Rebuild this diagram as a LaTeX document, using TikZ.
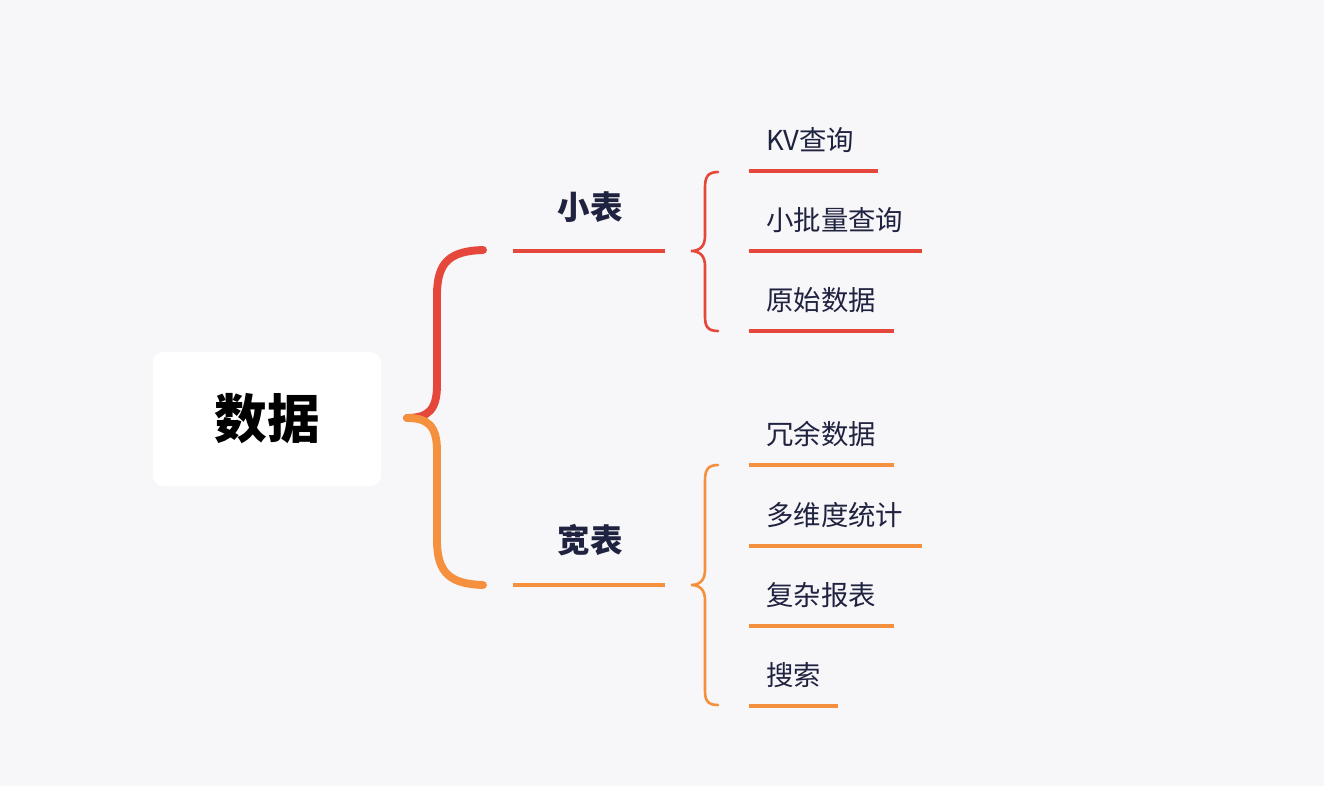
\documentclass[tikz,border=0pt]{standalone}
\usepackage{fontspec}
\setmainfont{Noto Sans CJK SC}
\usepackage{tikz}
\usetikzlibrary{positioning}
\definecolor{bgcol}{HTML}{F7F7F9}
\definecolor{redc}{HTML}{E5483A}
\definecolor{orac}{HTML}{F5913E}
\definecolor{navy}{HTML}{1F2340}
\tikzset{
  item/.style={anchor=west, inner sep=0pt, font=\fontsize{15.6}{15.6}\selectfont, text=navy},
  head/.style={inner sep=0pt, font=\fontsize{18.5}{18.5}\selectfont\bfseries, text=navy},
  uline/.style={line width=1.8pt},
  smallbrace/.style={line width=1.5pt, line cap=round}
}
\begin{document}
\begin{tikzpicture}[x=0.02cm, y=-0.02cm]
    % Background
    \fill[bgcol] (0,0) rectangle (1324,786);
    \useasboundingbox (0,0) rectangle (1324,786);

    % Root
    \node[fill=white, rounded corners=6pt, minimum width=228*0.02cm, minimum height=134*0.02cm,
      font=\fontsize{30}{30}\selectfont\bfseries] (root) at (267,419) {数据};

    % Big brace
    \draw[redc, line width=4.5pt, line cap=round] (483,250) .. controls (450,251) and (437,262) .. (437,295) -- (437,385) .. controls (437,410) and (428,418) .. (407,418);
    \draw[orac, line width=4.5pt, line cap=round] (483,585) .. controls (450,584) and (437,573) .. (437,540) -- (437,451) .. controls (437,426) and (428,418) .. (407,418);

    % Branches
    \node[head] (small) at (590,207) {小表};
    \node[head] (wide) at (590,540) {宽表};
    \draw[redc, uline] (513,251) -- (665,251);
    \draw[orac, uline] (513,585) -- (665,585);

    % Small braces
    \draw[redc, smallbrace] (718,172) .. controls (707,172) and (705,178) .. (705,188) -- (705,236) .. controls (705,246) and (700,251) .. (691,251)
      .. controls (700,251) and (705,256) .. (705,266) -- (705,316) .. controls (705,326) and (707,331) .. (718,331);
    \draw[orac, smallbrace] (718,465) .. controls (707,465) and (705,471) .. (705,481) -- (705,570) .. controls (705,580) and (700,585) .. (691,585)
      .. controls (700,585) and (705,590) .. (705,600) -- (705,690) .. controls (705,700) and (707,705) .. (718,705);

    % Leaves
    \foreach \n/\y/\l/\e/\c in {kv/140/{KV查询}/878/redc, batch/220/小批量查询/922/redc, raw/300/原始数据/894/redc,
      redund/434/冗余数据/894/orac, multi/515/多维度统计/922/orac, report/595/复杂报表/894/orac, search/675/搜索/838/orac} {
      \node[item] (\n) at (766,\y) {\l};
      \draw[\c, uline] (749,\y+31) -- (\e,\y+31);
    }
\end{tikzpicture}
\end{document}
